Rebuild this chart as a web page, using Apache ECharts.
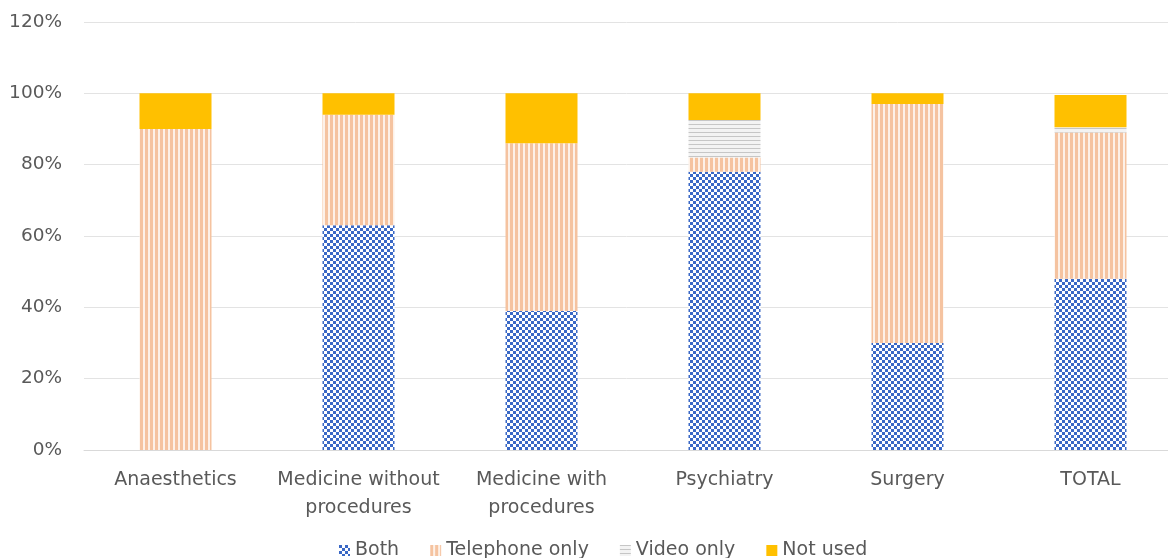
<!DOCTYPE html>
<html>
<head>
<meta charset="utf-8">
<script src="https://cdn.jsdelivr.net/npm/echarts@6/dist/echarts.min.js"></script>
<style>
  html, body { margin: 0; padding: 0; background: #fff; }
  #chart { width: 1168px; height: 558px; }
</style>
</head>
<body>
<div id="chart"></div>
<script>
const categories = ["Anaesthetics", "Medicine without\nprocedures", "Medicine with\nprocedures", "Psychiatry", "Surgery", "TOTAL"];
const both = [0, 63, 39, 78, 30, 48];
const telephoneOnly = [90, 31, 47, 4, 67, 41];
const videoOnly = [0, 0, 0, 10.5, 0, 1.5];
const notUsed = [10, 6, 14, 7.5, 3, 9];
const tickLabels = ["0%", "20%", "40%", "60%", "80%", "100%", "120%"];

// small tiles that mimic the hatched fills of the original
function tile(w, h, draw) {
  const c = document.createElement("canvas");
  c.width = w;
  c.height = h;
  draw(c.getContext("2d"));
  return { image: c, repeat: "repeat" };
}

const checkFill = tile(6, 6, (ctx) => {
  ctx.fillStyle = "#ffffff";
  ctx.fillRect(0, 0, 6, 6);
  ctx.fillStyle = "#3a68c6";
  ctx.fillRect(0, 0, 3, 3);
  ctx.fillRect(3, 3, 3, 3);
});

const stripeFill = tile(5, 1, (ctx) => {
  ctx.fillStyle = "#fdf1e8";
  ctx.fillRect(0, 0, 5, 1);
  ctx.fillStyle = "#f5c3a0";
  ctx.fillRect(0, 0, 3, 1);
});

const lineFill = tile(1, 4, (ctx) => {
  ctx.fillStyle = "#f3f3f3";
  ctx.fillRect(0, 0, 1, 4);
  ctx.fillStyle = "#c6c6c6";
  ctx.fillRect(0, 0, 1, 1);
});

const chart = echarts.init(document.getElementById("chart"), undefined, { renderer: "canvas" });

const font = "'DejaVu Sans', 'Open Sans', sans-serif";

function bar(name, data, color) {
  return {
    name,
    type: "bar",
    stack: "all",
    barWidth: 72,
    itemStyle: { color },
    data,
  };
}

chart.setOption({
  animation: false,
  textStyle: { fontFamily: font },
  // the plot runs a little past the right edge, as in the cropped original
  grid: { left: 84, width: 1098, top: 22, bottom: 108, outerBoundsMode: "none" },
  legend: {
    top: 536,
    left: 334,
    icon: "rect",
    itemWidth: 11,
    itemHeight: 11,
    itemGap: 31,
    textStyle: { color: "#595959", fontSize: 19, fontFamily: font },
  },
  xAxis: {
    type: "category",
    data: categories,
    axisLine: { lineStyle: { color: "#d9d9d9" } },
    axisTick: { show: false },
    axisLabel: { color: "#595959", fontSize: 19, lineHeight: 28, margin: 16, interval: 0 },
  },
  yAxis: {
    type: "value",
    min: 0,
    max: 120,
    interval: 20,
    axisLine: { show: false },
    axisTick: { show: false },
    splitLine: { lineStyle: { color: "#e3e3e3" } },
    axisLabel: {
      color: "#595959",
      fontSize: 18.5,
      margin: 22,
      formatter: (v) => tickLabels[Math.round(v / 20)],
    },
  },
  series: [
    bar("Both", both, checkFill),
    bar("Telephone only", telephoneOnly, stripeFill),
    bar("Video only", videoOnly, lineFill),
    bar("Not used", notUsed, "#ffc000"),
  ],
});
</script>
</body>
</html>
